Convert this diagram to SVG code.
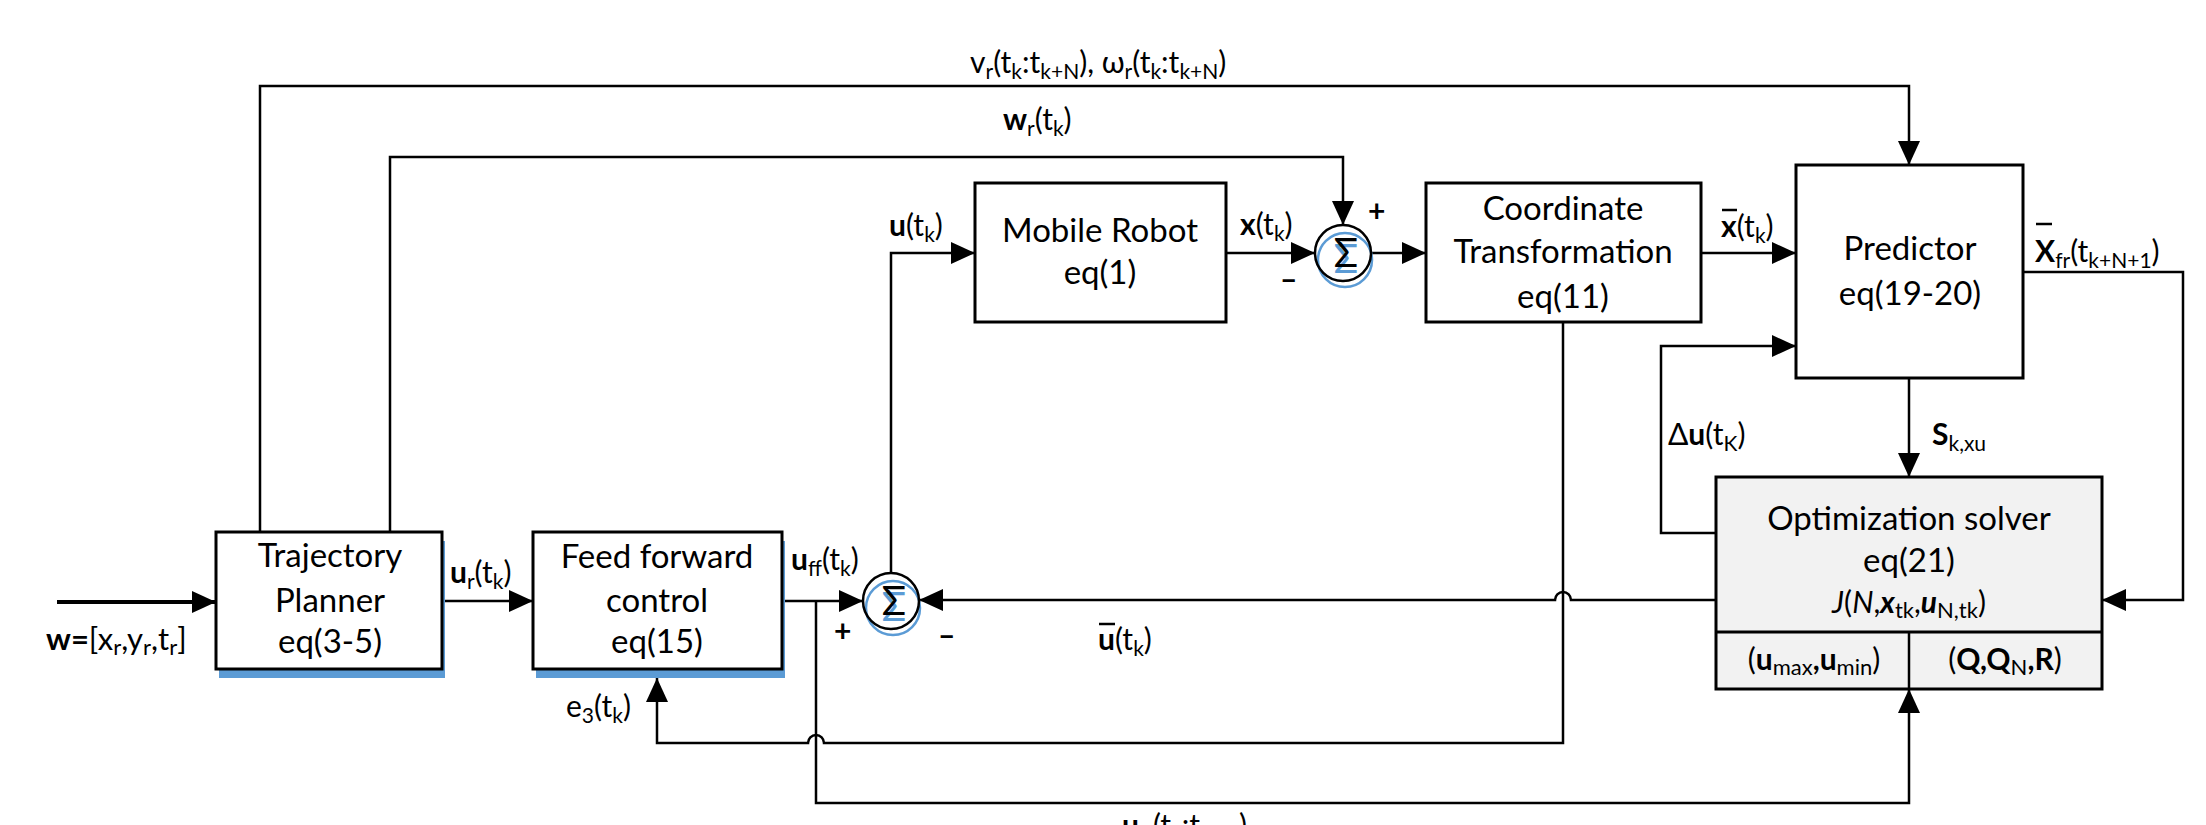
<svg xmlns="http://www.w3.org/2000/svg" width="2206" height="825" viewBox="0 0 2206 825">
<defs>
<marker id="ah" markerUnits="userSpaceOnUse" markerWidth="26" markerHeight="24" refX="24" refY="11" orient="auto">
<path d="M0,0 L24,11 L0,22 Z" fill="#000"/>
</marker>
<style>
.bx{fill:#fff;stroke:#000;stroke-width:3}
.sh{fill:#5b9bd5;stroke:none}
.opt{fill:#f2f2f2;stroke:#000;stroke-width:3}
.c{fill:none;stroke:#000;stroke-width:2.5}
.ca{fill:none;stroke:#000;stroke-width:2.5;marker-end:url(#ah)}
text{font-family:Lato,"Liberation Sans",sans-serif;fill:#000}
.t{font-size:33px;text-anchor:middle}
.l{font-size:30px}
.s{font-size:21px}
.b{font-weight:bold}
.sig{font-size:40px;text-anchor:middle}
.ring{fill:none;stroke:#000;stroke-width:2.5}
.bring{fill:none;stroke:#5b9bd5;stroke-width:2.5}
.ob{stroke:#000;stroke-width:2.5}
</style>
</defs>

<g id="connectors">
<path class="ca" d="M260,532 V86 H1909 V165"/>
<path class="ca" d="M390,532 V157 H1343 V225"/>
<path class="ca" d="M57,602 H216" style="stroke-width:4"/>
<path class="ca" d="M442,601 H533"/>
<path class="ca" d="M782,601 H863"/>
<path class="ca" d="M891,573 V253 H975"/>
<path class="ca" d="M1226,253 H1315"/>
<path class="ca" d="M1371,253 H1426"/>
<path class="ca" d="M1701,253 H1796"/>
<path class="ca" d="M2023,272 H2183 V600 H2102"/>
<path class="ca" d="M1909,378 V477"/>
<path class="ca" d="M1716,533 H1661 V346 H1796"/>
<path class="ca" d="M1716,600 H1571 A8,8 0 0 0 1555,600 H919"/>
<path class="ca" d="M1563,322 V743 H824 A8,8 0 0 0 808,743 H657 V678"/>
<path class="ca" d="M816,601 V803 H1909 V689"/>
</g>

<g id="sum1">
<circle class="bring" cx="1345" cy="260" r="27"/>
<circle class="ring" cx="1343" cy="253" r="28"/>
<text class="sig" x="1346" y="273" style="fill:#5b9bd5">Σ</text>
<text class="sig" x="1346" y="267">Σ</text>
<text class="l b" x="1368" y="222">+</text>
<text class="l b" x="1280" y="290">–</text>
</g>

<g id="sum2">
<circle class="bring" cx="893" cy="608" r="27"/>
<circle class="ring" cx="891" cy="601" r="28"/>
<text class="sig" x="894" y="621" style="fill:#5b9bd5">Σ</text>
<text class="sig" x="894" y="615">Σ</text>
<text class="l b" x="834" y="642">+</text>
<text class="l b" x="938" y="646">–</text>
</g>

<g id="trajectory-planner">
<rect class="sh" x="219" y="541" width="226" height="137"/>
<rect class="bx" x="216" y="532" width="226" height="137"/>
<text class="t" x="330" y="567">Trajectory</text>
<text class="t" x="330" y="612">Planner</text>
<text class="t" x="330" y="653">eq(3-5)</text>
</g>

<g id="feed-forward">
<rect class="sh" x="536" y="541" width="249" height="137"/>
<rect class="bx" x="533" y="532" width="249" height="137"/>
<text class="t" x="657" y="568">Feed forward</text>
<text class="t" x="657" y="612">control</text>
<text class="t" x="657" y="653">eq(15)</text>
</g>

<g id="mobile-robot">
<rect class="bx" x="975" y="183" width="251" height="139"/>
<text class="t" x="1100" y="242">Mobile Robot</text>
<text class="t" x="1100" y="284">eq(1)</text>
</g>

<g id="coordinate-transformation">
<rect class="bx" x="1426" y="183" width="275" height="139"/>
<text class="t" x="1563" y="220">Coordinate</text>
<text class="t" x="1563" y="263">Transformation</text>
<text class="t" x="1563" y="308">eq(11)</text>
</g>

<g id="predictor">
<rect class="bx" x="1796" y="165" width="227" height="213"/>
<text class="t" x="1910" y="260">Predictor</text>
<text class="t" x="1910" y="305">eq(19-20)</text>
</g>

<g id="optimization-solver">
<rect class="opt" x="1716" y="477" width="386" height="212"/>
<line class="c" x1="1716" y1="632" x2="2102" y2="632" style="stroke-width:3"/>
<line class="c" x1="1909" y1="632" x2="1909" y2="689"/>
<text class="t" x="1909" y="530">Optimization solver</text>
<text class="t" x="1909" y="572">eq(21)</text>
<text x="1909" y="613" style="font-size:30px;text-anchor:middle"><tspan font-style="italic">J</tspan>(<tspan font-style="italic">N</tspan>,<tspan font-style="italic" font-weight="bold">x</tspan><tspan font-size="22" dy="5">tk</tspan><tspan dy="-5">,</tspan><tspan font-style="italic" font-weight="bold">u</tspan><tspan font-size="22" dy="5">N,tk</tspan><tspan dy="-5">)</tspan></text>
<text x="1814" y="670" style="font-size:30px;text-anchor:middle">(<tspan font-weight="bold">u</tspan><tspan font-size="22" dy="5">max</tspan><tspan dy="-5" font-weight="bold">,u</tspan><tspan font-size="22" dy="5">min</tspan><tspan dy="-5">)</tspan></text>
<text x="2005" y="670" style="font-size:30px;text-anchor:middle">(<tspan font-weight="bold">Q,Q</tspan><tspan font-size="22" dy="5">N</tspan><tspan dy="-5" font-weight="bold">,R</tspan>)</text>
</g>

<g id="labels">
<text class="l" x="970" y="73">v<tspan class="s" dy="6">r</tspan><tspan dy="-6">(t</tspan><tspan class="s" dy="6">k</tspan><tspan dy="-6">:t</tspan><tspan class="s" dy="6">k+N</tspan><tspan dy="-6">), ω</tspan><tspan class="s" dy="6">r</tspan><tspan dy="-6">(t</tspan><tspan class="s" dy="6">k</tspan><tspan dy="-6">:t</tspan><tspan class="s" dy="6">k+N</tspan><tspan dy="-6">)</tspan></text>
<text class="l" x="1003" y="130"><tspan class="b">w</tspan><tspan class="s" dy="6">r</tspan><tspan dy="-6">(t</tspan><tspan class="s" dy="6">k</tspan><tspan dy="-6">)</tspan></text>
<text class="l" x="889" y="236"><tspan class="b">u</tspan>(t<tspan class="s" dy="6">k</tspan><tspan dy="-6">)</tspan></text>
<text class="l" x="1240" y="235"><tspan class="b">x</tspan>(t<tspan class="s" dy="6">k</tspan><tspan dy="-6">)</tspan></text>
<text class="l" x="1721" y="237"><tspan class="b">x</tspan>(t<tspan class="s" dy="6">k</tspan><tspan dy="-6">)</tspan></text>
<line class="ob" x1="1722" y1="210" x2="1737" y2="210"/>
<text class="l" x="2035" y="262"><tspan class="b">X</tspan><tspan class="s" dy="6">fr</tspan><tspan dy="-6">(t</tspan><tspan class="s" dy="6">k+N+1</tspan><tspan dy="-6">)</tspan></text>
<line class="ob" x1="2036" y1="224" x2="2052" y2="224"/>
<text class="l" x="1668" y="445">Δ<tspan class="b">u</tspan>(t<tspan class="s" dy="6">K</tspan><tspan dy="-6">)</tspan></text>
<text class="l" x="1932" y="445"><tspan class="b">S</tspan><tspan class="s" dy="6">k,xu</tspan></text>
<text class="l" x="450" y="583"><tspan class="b">u</tspan><tspan class="s" dy="6">r</tspan><tspan dy="-6">(t</tspan><tspan class="s" dy="6">k</tspan><tspan dy="-6">)</tspan></text>
<text class="l" x="791" y="570"><tspan class="b">u</tspan><tspan class="s" dy="6">ff</tspan><tspan dy="-6">(t</tspan><tspan class="s" dy="6">k</tspan><tspan dy="-6">)</tspan></text>
<text class="l" x="1098" y="650"><tspan class="b">u</tspan>(t<tspan class="s" dy="6">k</tspan><tspan dy="-6">)</tspan></text>
<line class="ob" x1="1099" y1="624" x2="1115" y2="624"/>
<text class="l" x="566" y="717">e<tspan class="s" dy="6">3</tspan><tspan dy="-6">(t</tspan><tspan class="s" dy="6">k</tspan><tspan dy="-6">)</tspan></text>
<text x="46" y="650" style="font-size:31px"><tspan class="b">w=</tspan>[x<tspan font-size="22" dy="5">r</tspan><tspan dy="-5">,y</tspan><tspan font-size="22" dy="5">r</tspan><tspan dy="-5">,t</tspan><tspan font-size="22" dy="5">r</tspan><tspan dy="-5">]</tspan></text>
<text class="l" x="1122" y="836"><tspan class="b">u</tspan><tspan class="s" dy="6">ff</tspan><tspan dy="-6">(t</tspan><tspan class="s" dy="6">k</tspan><tspan dy="-6">:t</tspan><tspan class="s" dy="6">k+N</tspan><tspan dy="-6">)</tspan></text>
</g>
</svg>
